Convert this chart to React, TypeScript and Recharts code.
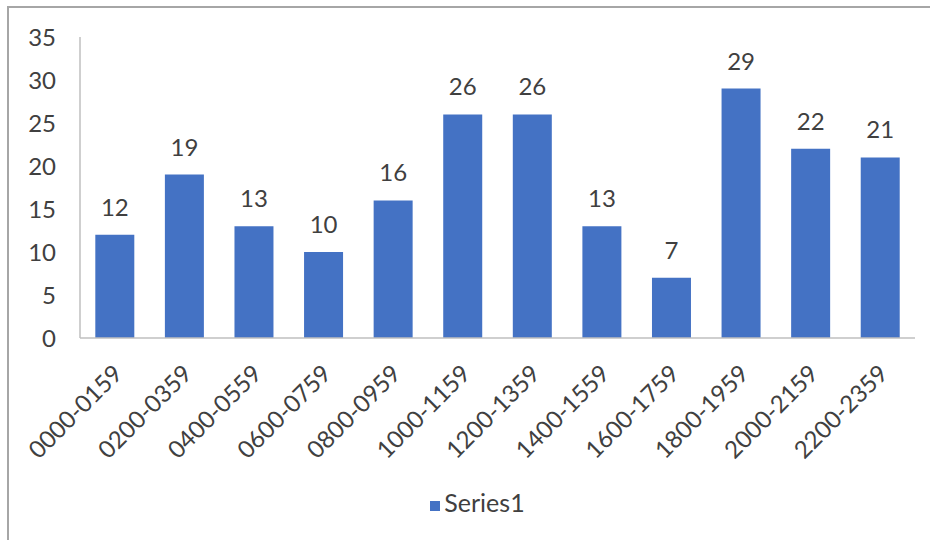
import React from "react";
import { BarChart, Bar, XAxis, YAxis, Legend, LabelList } from "recharts";

// Counts per two-hour window, Excel-style column chart.
const timeSlots = [
  "0000-0159",
  "0200-0359",
  "0400-0559",
  "0600-0759",
  "0800-0959",
  "1000-1159",
  "1200-1359",
  "1400-1559",
  "1600-1759",
  "1800-1959",
  "2000-2159",
  "2200-2359",
];
const series1 = [12, 19, 13, 10, 16, 26, 26, 13, 7, 29, 22, 21];
const yTicks = [0, 5, 10, 15, 20, 25, 30, 35];

const FONT = "Lato, 'Open Sans', sans-serif";
const TEXT = "#404040";
const AXIS = "#bfbfbf";
const BLUE = "#4472C4";
const FS = 24;

export default function App() {
  const data = timeSlots.map((slot, i) => ({ slot, Series1: series1[i] }));

  return (
    <div
      style={{
        position: "absolute",
        left: 0,
        top: 0,
        width: 930,
        height: 540,
        background: "#fff",
        fontFamily: FONT,
      }}
    >
      {/* frame: only top and left edges are visible in the picture */}
      <div
        style={{
          position: "absolute",
          left: 7,
          top: 6,
          width: 923,
          height: 534,
          borderTop: "2px solid #a6a6a6",
          borderLeft: "2px solid #a6a6a6",
          boxSizing: "border-box",
        }}
      />
      <BarChart
        width={930}
        height={540}
        data={data}
        margin={{ top: 37, right: 15, left: 0, bottom: 0 }}
        barCategoryGap="22%"
        style={{ position: "absolute", left: 0, top: 0 }}
      >
        <XAxis
          dataKey="slot"
          height={140}
          interval={0}
          tickLine={false}
          axisLine={{ stroke: AXIS, strokeWidth: 1.5 }}
          tick={{ angle: -45, textAnchor: "end", fill: TEXT, fontSize: FS, fontFamily: FONT, dy: 17, dx: -3 }}
        />
        <YAxis
          width={80}
          domain={[0, 35]}
          ticks={yTicks}
          interval={0}
          tickLine={false}
          axisLine={{ stroke: AXIS, strokeWidth: 1.5 }}
          tick={{ fill: TEXT, fontSize: FS, fontFamily: FONT, dx: -16 }}
        />
        <Legend
          verticalAlign="bottom"
          align="center"
          iconType="square"
          iconSize={10}
          wrapperStyle={{
            height: 62,
            paddingTop: 9,
            paddingLeft: 50,
            boxSizing: "border-box",
            fontSize: 25,
            fontFamily: FONT,
          }}
          formatter={(value: string) => <span style={{ color: TEXT }}>{value}</span>}
        />
        <Bar dataKey="Series1" fill={BLUE} isAnimationActive={false}>
          <LabelList
            dataKey="Series1"
            position="top"
            offset={19}
            fill={TEXT}
            fontSize={FS}
            fontFamily={FONT}
          />
        </Bar>
      </BarChart>
    </div>
  );
}
